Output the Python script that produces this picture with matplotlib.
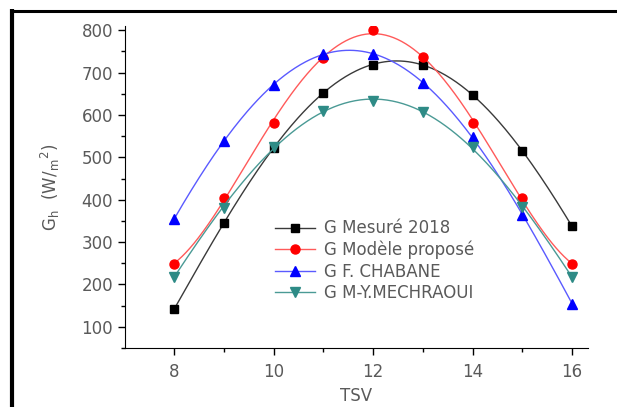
import numpy as np
import matplotlib
matplotlib.use("Agg")
import matplotlib.pyplot as plt
from matplotlib.lines import Line2D
from matplotlib.ticker import MultipleLocator

tsv = [8, 9, 10, 11, 12, 13, 14, 15, 16]
g_mesure = [141, 345, 522, 652, 719, 719, 647, 515, 337]
g_modele = [248, 404, 581, 735, 800, 737, 581, 404, 248]
g_chabane = [354, 538, 672, 743, 745, 676, 547, 365, 155]
g_mechraoui = [218, 381, 525, 609, 633, 607, 525, 382, 218]

labels = ["G Mesuré 2018", "G Modèle proposé", "G F. CHABANE", "G M-Y.MECHRAOUI"]
series = [g_mesure, g_modele, g_chabane, g_mechraoui]
mcolors = ["#000000", "#ff0000", "#0000ff", "#2e8b86"]
lcolors = ["#3a3a3a", "#ff5a5a", "#5a5aff", "#4a9a95"]
markers = ["s", "o", "^", "v"]
msizes = [6, 6.5, 7, 7]

plt.rcParams['font.family'] = ['DejaVu Sans']
txtc = "#5a5a5a"

fig = plt.figure(figsize=(6.17, 4.07), dpi=100)
ax = fig.add_axes([0.2026, 0.145, 0.953 - 0.2026, 0.936 - 0.145])

xs = np.linspace(8, 16, 300)
x = np.array(tsv, dtype=float)
for y, lab, mc, lc, m, ms in zip(series, labels, mcolors, lcolors, markers, msizes):
    coef = np.polyfit(x, np.array(y, dtype=float), 4)
    ax.plot(xs, np.polyval(coef, xs), color=lc, lw=1.0)
    ax.plot(x, y, linestyle='none', marker=m, color=mc, ms=ms)

handles = [Line2D([0], [0], color=lc, lw=1.0, marker=m, markerfacecolor=mc,
                  markeredgecolor=mc, ms=ms)
           for lc, mc, m, ms in zip(lcolors, mcolors, markers, msizes)]
leg = ax.legend(handles, labels, loc='upper left', bbox_to_anchor=(0.31, 0.42),
                frameon=False, fontsize=12, handlelength=2.4, numpoints=1,
                labelspacing=0.2, handletextpad=0.55, borderaxespad=0)
for t in leg.get_texts():
    t.set_color(txtc)

ax.set_xlim(7.015, 16.32)
ax.set_ylim(50, 810)
ax.xaxis.set_major_locator(MultipleLocator(2))
ax.xaxis.set_minor_locator(MultipleLocator(1))
ax.yaxis.set_major_locator(MultipleLocator(100))
ax.yaxis.set_minor_locator(MultipleLocator(50))
ax.set_yticks(range(100, 801, 100))
ax.spines['top'].set_visible(False)
ax.spines['right'].set_visible(False)
ax.tick_params(which='major', direction='out', length=5, width=1, labelsize=12,
               labelcolor=txtc)
ax.tick_params(which='minor', direction='out', length=3, width=1)
ax.tick_params(axis='x', pad=6)

ax.set_xlabel("TSV", fontsize=12, color=txtc, labelpad=4)
ax.set_ylabel(r"G$_\mathregular{h}$  (W/$_\mathregular{m}$$^\mathregular{2}$)",
              fontsize=12, color=txtc, labelpad=14)

fig.add_artist(Line2D([12 / 617, 12 / 617], [0, 1 - 9 / 407], color='black',
                      lw=3.0, transform=fig.transFigure, solid_capstyle='butt'))
fig.add_artist(Line2D([10 / 617, 1], [1 - 10.5 / 407, 1 - 10.5 / 407], color='black',
                      lw=2.2, transform=fig.transFigure, solid_capstyle='butt'))

fig.savefig("out.png", dpi=100)
